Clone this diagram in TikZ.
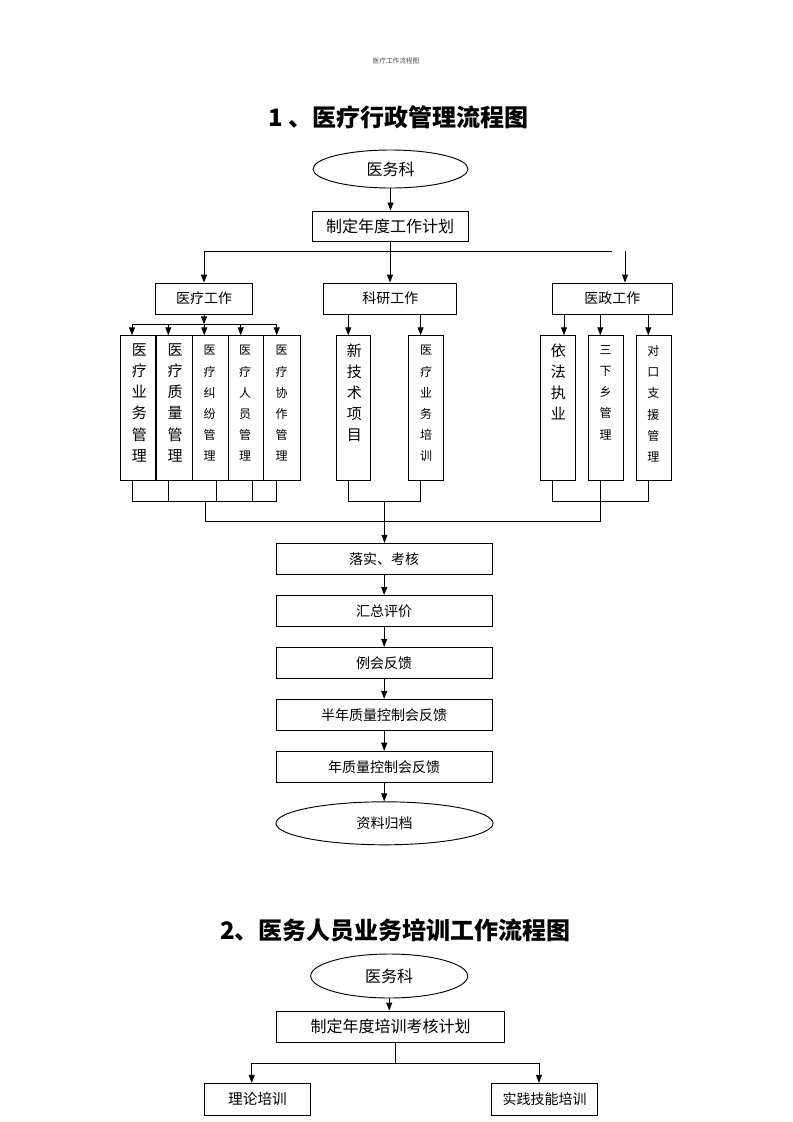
\documentclass[tikz,border=0pt]{standalone}
\usepackage{fontspec}
\setmainfont{Noto Sans CJK SC}
\usetikzlibrary{arrows.meta,shapes.geometric}
\begin{document}
\begin{tikzpicture}[x=0.75pt,y=-0.75pt,
  line width=0.7pt,
  bx/.style 2 args={draw,rectangle,minimum width=#1*0.75pt,minimum height=#2*0.75pt,inner sep=0pt},
  el/.style 2 args={draw,ellipse,minimum width=#1*0.75pt,minimum height=#2*0.75pt,inner sep=0pt},
  arr/.style={-{Triangle[length=6pt,width=4.5pt]}},
  big/.style={font=\fontsize{12}{14}\selectfont},
  mid/.style={font=\fontsize{10.5}{12}\selectfont},
  vbig/.style={font=\fontsize{11.25}{15.9}\selectfont,align=center,anchor=north,inner sep=0pt},
  vsm/.style={font=\fontsize{9}{15.9}\selectfont,align=center,anchor=north,inner sep=0pt},
  ttl/.style={font=\fontsize{18}{20}\selectfont\bfseries}
]
\useasboundingbox (0,0) rectangle (793,1122);

% header and title
\node[font=\fontsize{5}{6}\selectfont,text=black!70] (hdr) at (396,61) {医疗工作流程图};
\node[ttl] (t1) at (398.5,117) {1 、医疗行政管理流程图};

% top
\node[el={155}{38},big] (e1) at (390.5,169) {医务科};
\node[bx={156}{30},big] (plan) at (390,226) {制定年度工作计划};
\node[bx={97}{31},mid] (yl) at (204,298.5) {医疗工作};
\node[bx={133}{31},mid] (ky) at (390.3,298.5) {科研工作};
\node[bx={120}{31},mid] (yz) at (612.3,298.5) {医政工作};

% vertical boxes
\node[bx={35}{144.3}] (a1) at (138.2,407.9) {};
\node[bx={35.3}{144.3}] (a2) at (174.6,407.9) {};
\node[bx={36}{144.3}] (a3) at (210.3,407.9) {};
\node[bx={34.7}{144.3}] (a4) at (245.7,407.9) {};
\node[bx={36.7}{144.3}] (a5) at (282.3,407.9) {};
\node[bx={34.3}{144.3}] (b1) at (353.8,407.9) {};
\node[bx={35}{144.3}] (b2) at (425.8,407.9) {};
\node[bx={35.4}{144.3}] (c1) at (558,407.9) {};
\node[bx={35.4}{144.3}] (c2) at (606,407.9) {};
\node[bx={35.4}{144.3}] (c3) at (654,407.9) {};

\node[vbig] (ta1) at (139.3,343) {医\\疗\\业\\务\\管\\理};
\node[vbig] (ta2) at (175,343) {医\\疗\\质\\量\\管\\理};
\node[vsm] (ta3) at (209.5,345) {医\\疗\\纠\\纷\\管\\理};
\node[vsm] (ta4) at (245,345) {医\\疗\\人\\员\\管\\理};
\node[vsm] (ta5) at (281.7,345) {医\\疗\\协\\作\\管\\理};
\node[vbig] (tb1) at (354.3,343) {新\\技\\术\\项\\目};
\node[vsm] (tb2) at (426,345) {医\\疗\\业\\务\\培\\训};
\node[vbig] (tc1) at (558.3,343) {依\\法\\执\\业};
\node[vsm] (tc2) at (605.7,345) {三\\下\\乡\\管\\理};
\node[vsm] (tc3) at (653.3,345) {对\\口\\支\\援\\管\\理};

% main column
\node[bx={216.3}{31},mid] (d1) at (384.2,558.8) {落实、考核};
\node[bx={216.3}{31},mid] (d2) at (384.2,611) {汇总评价};
\node[bx={216.3}{31},mid] (d3) at (384.2,662.8) {例会反馈};
\node[bx={216.3}{31},mid] (d4) at (384.2,714.8) {半年质量控制会反馈};
\node[bx={216.3}{31},mid] (d5) at (384.2,766.7) {年质量控制会反馈};
\node[el={217}{43},mid] (e2) at (384.5,823.3) {资料归档};

% connectors top
\draw[arr] (e1.south) -- (e1.south |- plan.north);
\coordinate (busL) at (204,251);
\coordinate (busR) at (612,251);
\coordinate (busM) at (390,251);
\coordinate (yzin) at (625,251);
\draw (plan.south) -- (busM);
\draw (busL) -- (busR);
\draw[arr] (busL) -- (busL |- yl.north);
\draw[arr] (busM) -- (busM |- ky.north);
\draw[arr] (yzin) -- (yzin |- yz.north);

% medical group
\coordinate (mL) at (132,324.3);
\coordinate (mR) at (276.7,324.3);
\draw[arr] (yl.south) -- (yl.south |- mL);
\draw (mL) -- (mR);
\foreach \x/\n in {132/a1,168.3/a2,204.3/a3,240.7/a4,276.7/a5}{
  \coordinate (p\n) at (\x,324.3);
  \draw[arr] (p\n) -- (p\n |- \n.north);
}
\foreach \x/\n in {132.3/a1,168.3/a2,216.7/a3,252.7/a4,276.7/a5}{
  \coordinate (q\n) at (\x,501);
  \draw (\n.south -| q\n) -- (q\n);
}
\draw (qa1) -- (qa5);

% science group
\coordinate (kx1) at (348.3,501);
\coordinate (kx2) at (420.6,501);
\draw[arr] (kx1 |- ky.south) -- (kx1 |- b1.north);
\draw[arr] (kx2 |- ky.south) -- (kx2 |- b2.north);
\draw (kx1 |- b1.south) -- (kx1) -- (kx2) -- (kx2 |- b2.south);

% government group
\coordinate (gx1) at (564,0);
\coordinate (gx2) at (600.3,0);
\coordinate (gx3) at (648.3,0);
\draw[arr] (gx1 |- yz.south) -- (gx1 |- c1.north);
\draw[arr] (gx2 |- yz.south) -- (gx2 |- c2.north);
\draw[arr] (gx3 |- yz.south) -- (gx3 |- c3.north);
\coordinate (hx1) at (552.3,501);
\coordinate (hx2) at (600.3,501);
\coordinate (hx3) at (648.3,501);
\draw (hx1 |- c1.south) -- (hx1) -- (hx3) -- (hx3 |- c3.south);
\draw (hx2 |- c2.south) -- (hx2);

% lower bus
\coordinate (lowL) at (205,521);
\coordinate (lowR) at (600.3,521);
\coordinate (upL) at (205,501);
\draw (upL) -- (lowL) -- (lowR) -- (hx2);
\coordinate (mx) at (384.5,501);
\draw[arr] (mx) -- (mx |- d1.north);

% main chain
\draw[arr] (d1.south) -- (d2.north);
\draw[arr] (d2.south) -- (d3.north);
\draw[arr] (d3.south) -- (d4.north);
\draw[arr] (d4.south) -- (d5.north);
\draw[arr] (d5.south) -- (d5.south |- e2.north);

% second chart
\node[ttl] (t2) at (395.5,930) {2、医务人员业务培训工作流程图};
\node[el={157}{44},big] (f) at (389.2,976) {医务科};
\node[bx={227.6}{31.3},big] (g) at (390.5,1026.7) {制定年度培训考核计划};
\node[bx={106.4}{31.7},font=\fontsize{11}{13}\selectfont] (h1) at (257.5,1099.2) {理论培训};
\node[bx={105.6}{31.7},mid] (h2) at (544.5,1099.2) {实践技能培训};

\draw[arr] (f.south) -- (f.south |- g.north);
\coordinate (gm) at (395.7,1063.3);
\coordinate (gl) at (251.7,1063.3);
\coordinate (gr) at (539,1063.3);
\draw (gm |- g.south) -- (gm);
\draw (gl) -- (gr);
\draw[arr] (gl) -- (gl |- h1.north);
\draw[arr] (gr) -- (gr |- h2.north);
\end{tikzpicture}
\end{document}
